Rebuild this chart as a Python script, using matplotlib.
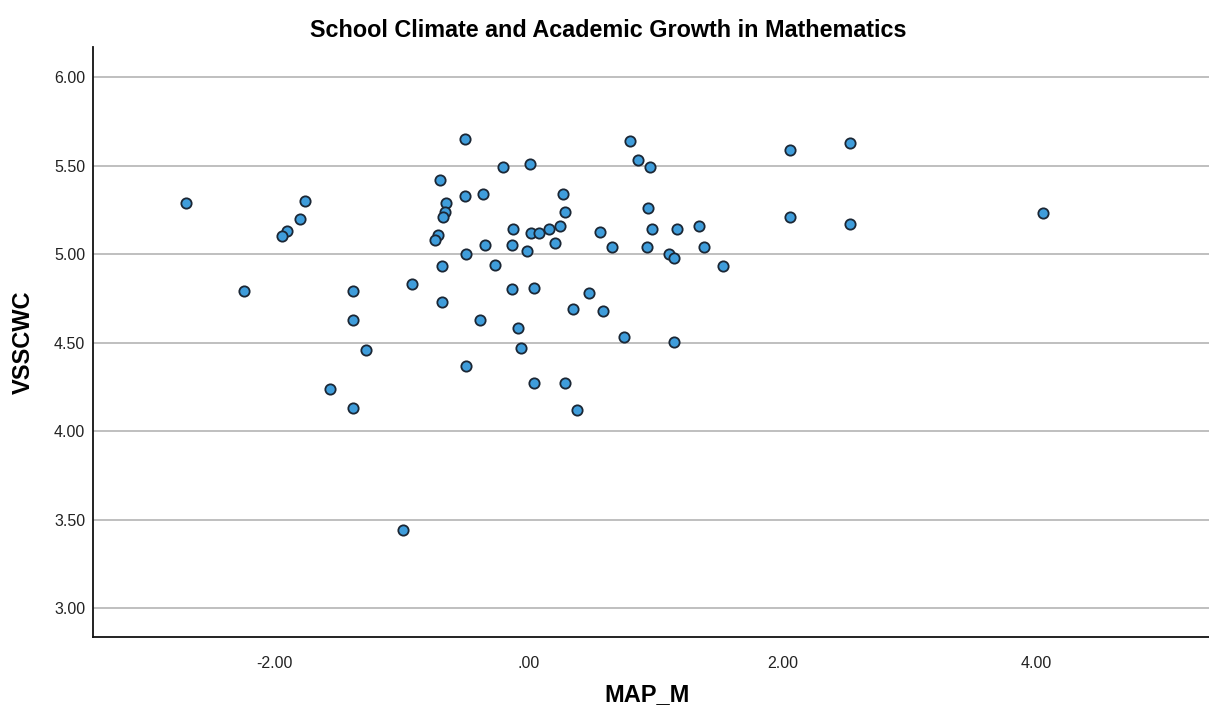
import matplotlib
matplotlib.use("Agg")
import matplotlib.pyplot as plt

plt.rcParams["font.family"] = ["Liberation Sans", "DejaVu Sans"]

# MAP_M (x) and VSSCWC (y)
map_m = [
    -2.70, -1.76, -1.80, -1.90, -1.94, -2.24, -1.38, -1.38, -1.28, -1.56,
    -1.38, -0.99, -0.70, -0.65, -0.66, -0.67, -0.71, -0.74, -0.68, -0.92,
    -0.68, -0.50, -0.50, -0.36, -0.20, 0.01, -0.49, -0.26, -0.34, -0.13,
    -0.01, -0.12, 0.02, 0.08, 0.16, 0.25, 0.27, 0.29, 0.21, -0.13,
    0.04, -0.38, -0.08, -0.06, -0.49, 0.04, 0.29, 0.38, 0.35, 0.48,
    0.59, 0.56, 0.66, 0.75, 0.80, 0.86, 0.96, 0.94, 0.97, 0.93,
    1.11, 1.15, 1.17, 1.34, 1.38, 1.53, 1.15, 2.06, 2.53, 2.06,
    2.53, 4.05,
]
vsscwc = [
    5.29, 5.30, 5.20, 5.13, 5.10, 4.79, 4.79, 4.63, 4.46, 4.24,
    4.13, 3.44, 5.42, 5.29, 5.24, 5.21, 5.11, 5.08, 4.93, 4.83,
    4.73, 5.65, 5.33, 5.34, 5.49, 5.51, 5.00, 4.94, 5.05, 5.05,
    5.02, 5.14, 5.12, 5.12, 5.14, 5.16, 5.34, 5.24, 5.06, 4.80,
    4.81, 4.63, 4.58, 4.47, 4.37, 4.27, 4.27, 4.12, 4.69, 4.78,
    4.68, 5.125, 5.04, 4.53, 5.64, 5.53, 5.49, 5.26, 5.14, 5.04,
    5.00, 4.98, 5.14, 5.16, 5.04, 4.93, 4.505, 5.59, 5.63, 5.21,
    5.17, 5.23,
]

x_ticks = [-2, 0, 2, 4]
x_labels = ["-2.00", ".00", "2.00", "4.00"]
y_ticks = [3.0, 3.5, 4.0, 4.5, 5.0, 5.5, 6.0]
y_labels = ["3.00", "3.50", "4.00", "4.50", "5.00", "5.50", "6.00"]

fig = plt.figure(figsize=(12.09, 7.10), dpi=100)
ax = fig.add_axes([0.0769, 0.1028, 0.9231, 0.831])

ax.set_axisbelow(True)
ax.yaxis.grid(True, color="#bfbfbf", linewidth=1.4)
ax.scatter(map_m, vsscwc, s=55, color="#3f9ddb", edgecolors="#1b2735",
           linewidths=1.3, zorder=3)

ax.set_xlim(-3.43, 5.36)
ax.set_ylim(2.836, 6.17)
ax.set_xticks(x_ticks)
ax.set_xticklabels(x_labels)
ax.set_yticks(y_ticks)
ax.set_yticklabels(y_labels)
ax.tick_params(length=0, labelsize=11.5, colors="#222222")
ax.tick_params(axis="x", pad=13.5)
ax.tick_params(axis="y", pad=5.5)

for side in ("top", "right"):
    ax.spines[side].set_visible(False)
for side in ("left", "bottom"):
    ax.spines[side].set_linewidth(1.3)
    ax.spines[side].set_color("#111111")

ax.set_ylabel("VSSCWC", fontsize=17, fontweight="bold", labelpad=14)
fig.text(0.535, 0.013, "MAP_M", ha="center", va="baseline",
         fontsize=17, fontweight="bold")
fig.text(0.503, 0.957, "School Climate and Academic Growth in Mathematics",
         ha="center", va="center", fontsize=16.8, fontweight="bold")

fig.savefig("out.png", dpi=100)
